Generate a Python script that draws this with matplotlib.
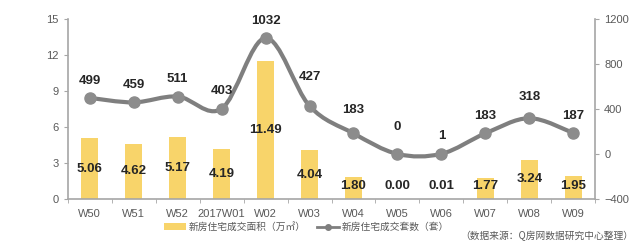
import numpy as np
import matplotlib
matplotlib.use('Agg')
import matplotlib.pyplot as plt
from matplotlib.path import Path
from matplotlib.patches import PathPatch, Patch
from matplotlib.lines import Line2D

# data
weeks = ['W50', 'W51', 'W52', '2017W01', 'W02', 'W03', 'W04', 'W05', 'W06', 'W07', 'W08', 'W09']
area = [5.06, 4.62, 5.17, 4.19, 11.49, 4.04, 1.80, 0.00, 0.01, 1.77, 3.24, 1.95]
units = [499, 459, 511, 403, 1032, 427, 183, 0, 1, 183, 318, 187]

plt.rcParams['font.family'] = ['Liberation Sans', 'Noto Sans CJK SC']
cjk = ['Noto Sans CJK SC', 'DejaVu Sans']

bar_color = '#F8D46A'
line_color = '#7F7F7F'
axis_color = '#A6A6A6'
tick_color = '#595959'

fig = plt.figure(figsize=(6.4, 2.48), dpi=100)
ax1 = fig.add_axes([0.106, 0.198, 0.824, 0.725])
ax2 = ax1.twinx()

x = np.arange(len(weeks))

# bars (area)
ax1.bar(x, area, width=0.38, color=bar_color, zorder=2)
ax1.set_xlim(-0.5, len(weeks) - 0.5)
ax1.set_ylim(0, 15)
ax1.set_yticks(range(0, 16, 3))
for xi, v in zip(x, area):
    ax1.text(xi, max(v / 2, 1.1), '{:.2f}'.format(v), ha='center', va='center',
             fontsize=9.5, fontweight='bold', color='#262626', zorder=5)

# smoothed line (units) drawn as bezier path through the points
ax2.set_ylim(-400, 1200)
ax2.set_yticks(range(-400, 1201, 400))
pts = np.column_stack([x, units]).astype(float)
verts = [tuple(pts[0])]
codes = [Path.MOVETO]
n = len(pts)
for i in range(n - 1):
    p0 = pts[max(i - 1, 0)]
    p1 = pts[i]
    p2 = pts[i + 1]
    p3 = pts[min(i + 2, n - 1)]
    c1 = p1 + (p2 - p0) / 6.0
    c2 = p2 - (p3 - p1) / 6.0
    verts += [tuple(c1), tuple(c2), tuple(p2)]
    codes += [Path.CURVE4] * 3
curve = PathPatch(Path(verts, codes), facecolor='none', edgecolor=line_color,
                  lw=3.0, capstyle='round', zorder=3)
ax2.add_patch(curve)
ax2.plot(x, units, 'o', color='#8C8C8C', markersize=8, zorder=4)

# label offsets above the points (points)
extra = {5: 8.5, 6: 4.5, 7: 7, 10: 3}
for i, (xi, v) in enumerate(zip(x, units)):
    ax2.annotate(str(v), (xi, v), xytext=(0, 12.5 + extra.get(i, 0)),
                 textcoords='offset points', ha='center', va='center',
                 fontsize=9.5, fontweight='bold', color='#262626', zorder=5)

# axes styling
for ax in (ax1, ax2):
    ax.spines['top'].set_visible(False)
    for s in ('left', 'right', 'bottom'):
        ax.spines[s].set_color(axis_color)
        ax.spines[s].set_linewidth(1.2)
    ax.tick_params(axis='y', colors=tick_color, labelsize=8, length=3, width=0.8)
    ax.tick_params(axis='y', color=axis_color)
ax1.spines['right'].set_visible(False)
ax2.spines['left'].set_visible(False)
ax2.spines['bottom'].set_visible(False)

ax1.set_xticks(x)
ax1.set_xticklabels(weeks)
ax1.tick_params(axis='x', length=0, labelsize=8, colors=tick_color, pad=7)
ax1.set_xticks(np.arange(-0.5, len(weeks), 1), minor=True)
ax1.tick_params(axis='x', which='minor', length=3, color=axis_color)

# legend
handles = [Patch(facecolor=bar_color, edgecolor='none'),
           Line2D([0], [0], color=line_color, lw=2, marker='o', markersize=4)]
labels = ['新房住宅成交面积（万㎡）', '新房住宅成交套数（套）']
leg = fig.legend(handles, labels, loc='center left', bbox_to_anchor=(0.243, 0.085),
                 ncol=2, frameon=False, prop={'family': cjk, 'size': 7},
                 handlelength=2.2, handleheight=0.6, columnspacing=1.2, handletextpad=0.3)
for t in leg.get_texts():
    t.set_color(tick_color)

fig.text(0.99, 0.05, '（数据来源：Q房网数据研究中心整理）', ha='right', va='center',
         fontsize=7, color=tick_color, family=cjk)

fig.savefig('out.png', dpi=100)
